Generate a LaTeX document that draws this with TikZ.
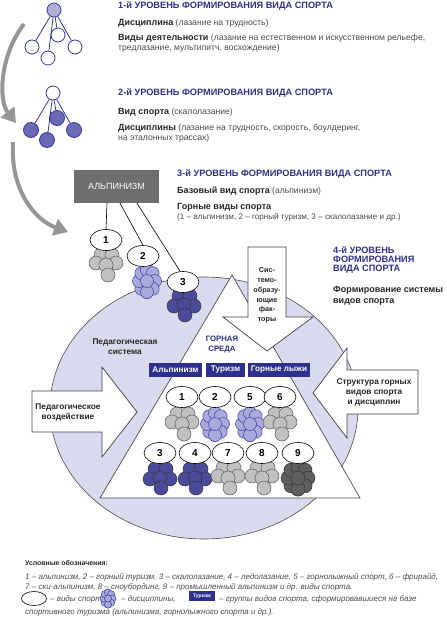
\documentclass[tikz,border=0pt]{standalone}
\usepackage{fontspec}
\setmainfont{Liberation Sans}
\usetikzlibrary{arrows.meta,shapes.geometric}
\definecolor{tblue}{RGB}{45,48,140}
\definecolor{lav}{RGB}{218,218,238}
\definecolor{txtg}{RGB}{75,75,75}
\definecolor{arrg}{RGB}{150,150,150}
\definecolor{boxg}{RGB}{110,110,110}
\definecolor{cgray}{RGB}{192,192,192}
\definecolor{cpur}{RGB}{170,170,218}
\definecolor{cpurs}{RGB}{60,60,165}
\definecolor{cdblue}{RGB}{75,75,155}
\definecolor{cdgray}{RGB}{95,95,95}
\definecolor{trfill}{RGB}{175,175,215}
\definecolor{trstroke}{RGB}{55,55,160}
\definecolor{trdark}{RGB}{105,105,180}
\newcommand{\bt}[1]{{\fontsize{9}{10}\bfseries\color{black!85}#1}}
\tikzset{
  title/.style={anchor=west,inner sep=0,font=\fontsize{9.2}{10}\bfseries\selectfont,text=tblue},
  body/.style={anchor=west,inner sep=0,font=\fontsize{8.6}{10}\selectfont,text=txtg},
  sport/.style={ellipse,draw=black,line width=0.6pt,fill=white,minimum width=32pt,minimum height=21pt,inner sep=0,font=\fontsize{10}{10}\bfseries\selectfont},
  grp/.style={fill=tblue,text=white,font=\fontsize{8.2}{9}\bfseries\selectfont,minimum height=14pt,inner sep=0},
  blockarrow/.style={fill=white,draw=black!75,line width=0.7pt,line join=miter},
  smalltxt/.style={align=center,inner sep=0,font=\fontsize{8.3}{9.6}\bfseries\selectfont,text=black!85},
  bigarrow/.style={draw=arrg,line width=4pt,-{Triangle[length=14pt,width=17pt]}},
  treetop/.style={circle,minimum size=14pt,inner sep=0,draw=trstroke,line width=0.8pt,fill=trfill},
  treew/.style={circle,minimum size=14pt,inner sep=0,draw=trstroke,line width=0.8pt,fill=white},
  treed/.style={circle,minimum size=15pt,inner sep=0,draw=trstroke,line width=0.8pt,fill=trdark},
  treeline/.style={draw=trstroke,line width=0.8pt},
  gc/.style={fill=cgray,draw=black!65,line width=0.5pt},
  pc/.style={fill=cpur,draw=cpurs,line width=0.5pt},
  dc/.style={fill=cdblue,draw=black!80,line width=0.5pt},
  kc/.style={fill=cdgray,draw=black!80,line width=0.5pt},
  lgb/.style={anchor=west,inner sep=0,font=\fontsize{6.9}{9}\bfseries\selectfont,text=black!85},
  lgi/.style={anchor=west,inner sep=0,font=\fontsize{8}{9}\itshape\selectfont,text=txtg},
  pics/graycl/.style={code={\foreach \a/\b in {-5/-10,6/-10,-10/-2,10/-2,0/0,2/10}\path[gc] (\a,\b) circle (7pt);}},
  pics/bluecl/.style={code={\foreach \a/\b in {-5/-9,6/-9,-10/1,10/1,0/0,1/10}\path[dc] (\a,\b) circle (7pt);}},
  pics/purcl/.style={code={\foreach \t in {90,135,...,450}\path[pc] ({8*cos(\t)},{11*sin(\t)}) circle (6.5pt);\path[pc] (0,0) circle (6.5pt);}},
  pics/darkcl/.style={code={\foreach \t in {90,135,...,450}\path[kc] ({10*cos(\t)},{11*sin(\t)}) circle (7pt);\path[kc] (0,0) circle (7pt);}},
}
\begin{document}
\begin{tikzpicture}[x=1pt,y=-1pt]
\useasboundingbox (0,0) rectangle (447,624);
% grey curved arrows
\coordinate (ga1) at (24,24);
\coordinate (gb1) at (16,123);
\coordinate (ga2) at (13,142);
\coordinate (gb2) at (68,232);
\draw[bigarrow] (ga1) .. controls (0,55) and (-2,100) .. (gb1);
\draw[bigarrow] (ga2) .. controls (10,190) and (35,220) .. (gb2);
% big ellipse and triangle
\path[fill=lav,draw=black!70,line width=0.6pt] (204,408) ellipse (154pt and 131pt);
\path[fill=white,draw=black!70,line width=0.7pt,line join=miter] (232,275) -- (360,498) -- (100,498) -- cycle;
% block arrows
\path[blockarrow] (248,247) -- (286,247) -- (286,317) -- (313,317) -- (267,351) -- (223,317) -- (248,317) -- cycle;
\path[blockarrow] (32,391) -- (102,391) -- (102,367) -- (137,412) -- (102,457) -- (102,432) -- (32,432) -- cycle;
\path[blockarrow] (418,370) -- (418,414) -- (347,414) -- (347,438) -- (313,393) -- (347,348) -- (347,370) -- cycle;
\node[smalltxt,font=\fontsize{7.2}{9.8}\bfseries\selectfont] (sf) at (267,295.5) {Сис-\\темо-\\образу-\\ющие\\фак-\\торы};
\node[smalltxt] (pv) at (68,412.5) {Педагогическое\\воздействие};
\node[smalltxt] (sg) at (374,392.5) {Структура горных\\видов спорта\\и дисциплин};
\node[smalltxt] (ps) at (125,346.5) {Педагогическая\\система};
\node[smalltxt,text=tblue,font=\fontsize{7.8}{9.3}\bfseries\selectfont] (gs) at (222,344.5) {ГОРНАЯ\\СРЕДА};
% group boxes
\node[grp,minimum width=53pt] (ga) at (175.5,370) {Альпинизм};
\node[grp,minimum width=39pt] (gt) at (225.5,370) {Туризм};
\node[grp,minimum width=62pt] (gl) at (279,370) {Горные лыжи};
% trees
\node[treetop] (t1) at (54,10) {};
\node[treew] (t1a) at (58,35) {};
\node[treew] (t1b) at (32,47) {};
\node[treew] (t1c) at (75,47) {};
\node[treew] (t1d) at (48,58) {};
\foreach \c in {t1a,t1b,t1c,t1d} \draw[treeline] (t1) -- (\c);
\node[treew] (t2) at (53,93) {};
\node[treed] (t2a) at (57,118) {};
\node[treed] (t2b) at (31,130) {};
\node[treed] (t2c) at (74,130) {};
\node[treed] (t2d) at (47,140) {};
\foreach \c in {t2a,t2b,t2c,t2d} \draw[treeline] (t2) -- (\c);
% alpinism box and level-3 sports
\node[fill=boxg,text=white,minimum width=85pt,minimum height=33pt,inner sep=0,font=\fontsize{9}{10}\selectfont] (alp) at (116.5,186.5) {АЛЬПИНИЗМ};
\pic at (106,265) {graycl};
\pic at (147,281) {purcl};
\pic at (184,305) {bluecl};
\node[sport] (e1) at (106,240) {1};
\node[sport] (e2) at (143,256) {2};
\node[sport] (e3) at (183,282) {3};
\draw[line width=0.6pt] ([xshift=-9.5pt]alp.south) -- (e1.north);
\draw[line width=0.6pt] ([xshift=3.5pt]alp.south) -- (e2.north);
\draw[line width=0.6pt] ([xshift=20.5pt]alp.south) -- (e3.105);
% triangle contents
\pic at (182,424) {graycl};
\pic at (215,424) {purcl};
\pic at (250,424) {purcl};
\pic at (280,424) {graycl};
\node[sport] (s1) at (182,397) {1};
\node[sport] (s2) at (215,397) {2};
\node[sport] (s5) at (250,397) {5};
\node[sport] (s6) at (280,397) {6};
\pic at (160,478) {bluecl};
\pic at (195,478) {bluecl};
\pic at (228,478) {graycl};
\pic at (262,478) {graycl};
\pic at (298,478) {darkcl};
\node[sport] (s3) at (160,453) {3};
\node[sport] (s4) at (195,453) {4};
\node[sport] (s7) at (228,453) {7};
\node[sport] (s8) at (262,453) {8};
\node[sport] (s9) at (298,453) {9};
% texts
\node[title] (h1) at (118,6) {1-й УРОВЕНЬ ФОРМИРОВАНИЯ ВИДА СПОРТА};
\node[body] (b11) at (118,23) {\bt{Дисциплина} (лазание на трудность)};
\node[body] (b12) at (118,38) {\bt{Виды деятельности} (лазание на естественном и искусственном рельефе,};
\node[body] (b13) at (118,48) {тредлазание, мультипитч, восхождение)};
\node[title] (h2) at (118,93) {2-й УРОВЕНЬ ФОРМИРОВАНИЯ ВИДА СПОРТА};
\node[body] (b21) at (118,112) {\bt{Вид спорта} (скалолазание)};
\node[body] (b22) at (118,128) {\bt{Дисциплины} (лазание на трудность, скорость, боулдеринг,};
\node[body] (b23) at (118,138) {на эталонных трассах)};
\node[title] (h3) at (177,174) {3-й УРОВЕНЬ ФОРМИРОВАНИЯ ВИДА СПОРТА};
\node[body] (b31) at (177,191) {\bt{Базовый вид спорта} (альпинизм)};
\node[body] (b32) at (177,207) {\bt{Горные виды спорта}};
\node[body,font=\fontsize{8.1}{10}\selectfont] (b33) at (177,217) {(1 – альпинизм, 2 – горный туризм, 3 – скалолазание и др.)};
\node[title,align=left,anchor=north west,font=\fontsize{9.2}{9.2}\bfseries\selectfont] (h4) at (333,246) {4-й УРОВЕНЬ\\ФОРМИРОВАНИЯ\\ВИДА СПОРТА};
\node[body,align=left,anchor=north west,font=\fontsize{9}{11}\bfseries\selectfont,text=black!85] (b41) at (333,286) {Формирование системы\\видов спорта};
% legend
\node[lgb] (l0) at (25,563) {Условные обозначения:};
\node[lgi] (l1) at (25,577) {1 – альпинизм, 2 – горный туризм, 3 – скалолазание, 4 – ледолазание, 5 – горнолыжный спорт, 6 – фрирайд,};
\node[lgi] (l2) at (25,587) {7 – ски-альпинизм, 8 – сноубординг, 9 – промышленный альпинизм и др. виды спорта.};
\node[ellipse,draw=black,line width=0.6pt,minimum width=25pt,minimum height=14pt,inner sep=0] (le) at (34,598.5) {};
\node[lgi] (l3a) at (50,599) {– виды спорта,};
\pic[scale=0.55] at (108,598.5) {purcl};
\node[lgi] (l3b) at (121,599) {– дисциплины,};
\node[grp,minimum width=26pt,minimum height=10pt,font=\fontsize{5}{6}\bfseries\selectfont] (lb) at (202,596) {Туризм};
\node[lgi] (l3c) at (219,599) {– группы видов спорта, сформировавшиеся на базе};
\node[lgi] (l4) at (25,612) {спортивного туризма (альпинизма, горнолыжного спорта и др.).};
\end{tikzpicture}
\end{document}
